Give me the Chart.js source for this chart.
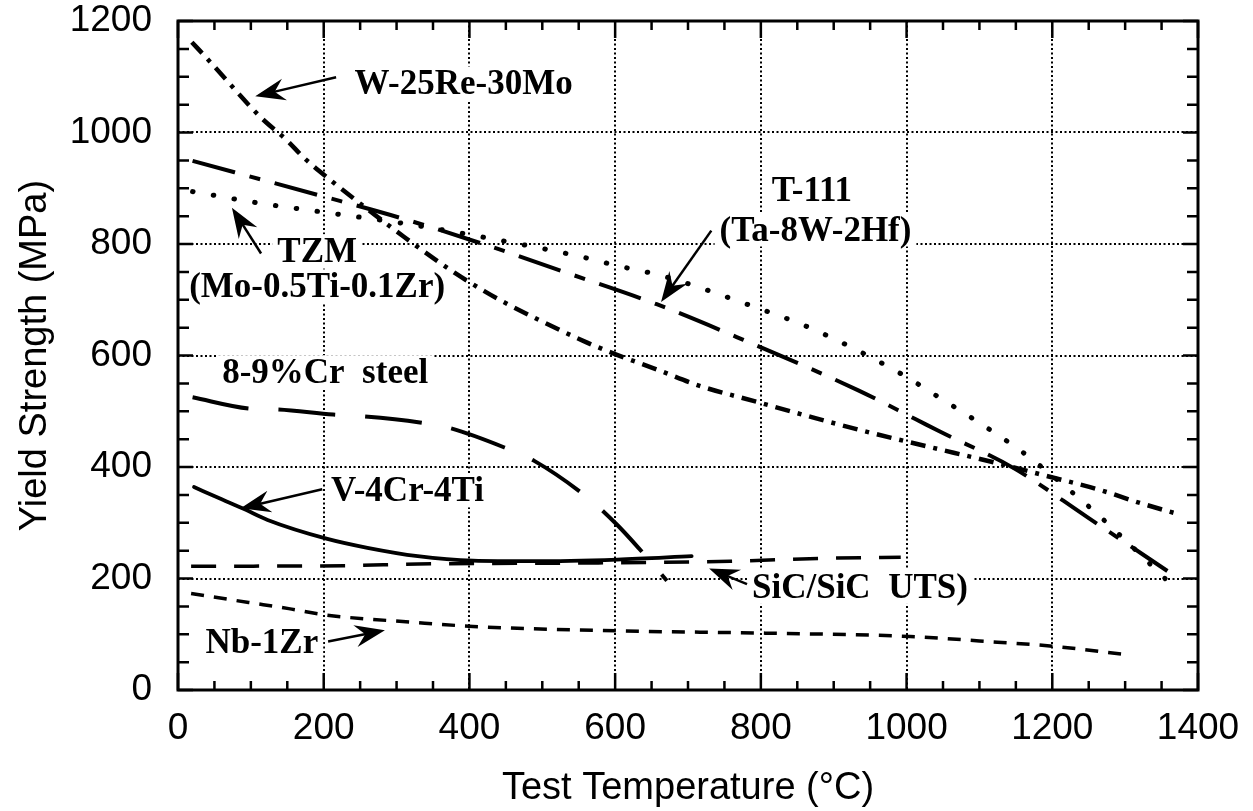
<!DOCTYPE html>
<html>
<head>
<meta charset="utf-8">
<script src="https://cdn.jsdelivr.net/npm/chart.js@4.4.1/dist/chart.umd.min.js"></script>
<style>
  html, body { margin: 0; padding: 0; background: #fff; }
  #wrap { width: 1253px; height: 811px; }
</style>
</head>
<body>
<div id="wrap"><canvas id="chart" width="1253" height="811"></canvas></div>
<script>
// axes
const xMin = 0, xMax = 1400, xStep = 200
const yMin = 0, yMax = 1200, yStep = 200
const minorStep = 50
const xTitle = "Test Temperature (°C)"
const yTitle = "Yield Strength (MPa)"

// W-25Re-30Mo (dash-dot)
const wTemp = [19, 39, 113, 151, 171, 210, 310, 380, 421, 444, 500, 560, 599, 657, 715, 794, 871, 949, 1028, 1124, 1192, 1265, 1319, 1374]
const wYield = [1162, 1134, 1028, 984, 957, 914, 813, 748, 715, 698, 661, 624, 603, 575, 546, 517, 489, 462, 437, 407, 384, 359, 336, 315]

// TZM (dotted)
const tzmTemp = [20, 113, 200, 314, 428, 547, 603, 667, 783, 872, 990, 1047, 1135, 1167, 1226, 1252, 1283, 1369]
const tzmYield = [894, 873, 857, 836, 810, 779, 761, 742, 691, 647, 569, 523, 449, 419, 356, 327, 290, 182]

// T-111 (long-short dash)
const t111Temp = [20, 192, 310, 428, 541, 657, 776, 933, 1012, 1045, 1147, 1247, 1363]
const t111Yield = [949, 888, 845, 796, 745, 692, 628, 538, 486, 464, 398, 311, 209]

// 8-9%Cr steel (long dash)
const crTemp = [20, 97, 138, 213, 254, 332, 370, 448, 489, 564, 603, 632, 671]
const crYield = [525, 505, 503, 494, 491, 480, 471, 435, 411, 343, 296, 255, 196]

// V-4Cr-4Ti (solid)
const vTemp = [22, 60, 90, 123, 205, 260, 329, 405, 487, 603, 705]
const vYield = [364, 342, 325, 305, 271, 255, 240, 232, 231, 234, 240]

// SiC/SiC UTS (dash)
const sicTemp = [18, 228, 329, 577, 758, 880, 992]
const sicYield = [222, 223, 226, 228, 231, 236, 238]

// Nb-1Zr (short dash)
const nbTemp = [18, 97, 152, 200, 328, 405, 606, 806, 1005, 1100, 1205, 1297]
const nbYield = [173, 157, 146, 135, 121, 114, 106, 102, 96, 88, 78, 64]

// labels and arrows, in data units
const labelText = ["W-25Re-30Mo", "TZM", "(Mo-0.5Ti-0.1Zr)", "T-111", "(Ta-8W-2Hf)", "8-9%Cr  steel", "V-4Cr-4Ti", "SiC/SiC  UTS)", "Nb-1Zr"]
const labelX = [392, 191, 191, 870, 875, 202, 315, 936, 115]
const labelY = [1088, 787, 724, 897, 826, 570, 358, 185, 87]
const arrowFrom = [[217, 1099], [114, 783], [732, 824], [198, 360], [781, 190], [206, 87]]
const arrowTo = [[106, 1065], [74, 865], [663, 696], [86, 326], [729, 218], [284, 107]]

function pts(xs, ys) {
    return xs.map((x, i) => ({ x: x, y: ys[i] }))
}

function series(name, xs, ys, dash, width, cap) {
    return {
        label: name,
        data: pts(xs, ys),
        showLine: true,
        pointRadius: 0,
        borderColor: "#000",
        borderWidth: width,
        borderDash: dash,
        borderCapStyle: cap,
        cubicInterpolationMode: "monotone",
        fill: false
    }
}

const labelFont = "bold 35px 'Liberation Serif', 'Times New Roman', serif"
const axisFont = "'Liberation Sans', Arial, sans-serif"

function drawArrow(ctx, x1, y1, x2, y2) {
    const ang = Math.atan2(y2 - y1, x2 - x1)
    const bx = -Math.cos(ang), by = -Math.sin(ang)
    const nx = -by, ny = bx
    const len = 30, half = 11
    ctx.beginPath()
    ctx.moveTo(x1, y1)
    ctx.lineTo(x2 + bx * 18, y2 + by * 18)
    ctx.lineWidth = 2.5
    ctx.stroke()
    ctx.beginPath()
    ctx.moveTo(x2, y2)
    ctx.lineTo(x2 + bx * len + nx * half, y2 + by * len + ny * half)
    ctx.lineTo(x2 + bx * 20, y2 + by * 20)
    ctx.lineTo(x2 + bx * len - nx * half, y2 + by * len - ny * half)
    ctx.closePath()
    ctx.fill()
}

const annotate = {
    id: "annotate",
    beforeDatasetsDraw(chart) {
        // white boxes behind labels, so the grid breaks there
        const ctx = chart.ctx, xs = chart.scales.x, ys = chart.scales.y
        ctx.save()
        ctx.font = labelFont
        ctx.fillStyle = "#fff"
        labelText.forEach((t, i) => {
            const w = ctx.measureText(t).width
            const cx = xs.getPixelForValue(labelX[i]), cy = ys.getPixelForValue(labelY[i])
            ctx.fillRect(cx - w / 2 - 5, cy - 17, w + 10, 34)
        })
        ctx.restore()
    },
    afterDatasetsDraw(chart) {
        const ctx = chart.ctx, xs = chart.scales.x, ys = chart.scales.y
        ctx.save()
        ctx.font = labelFont
        ctx.fillStyle = "#000"
        ctx.strokeStyle = "#000"
        ctx.textAlign = "center"
        ctx.textBaseline = "middle"
        labelText.forEach((t, i) => {
            ctx.fillText(t, xs.getPixelForValue(labelX[i]), ys.getPixelForValue(labelY[i]) + 2)
        })
        arrowFrom.forEach((f, i) => {
            const t = arrowTo[i]
            drawArrow(ctx, xs.getPixelForValue(f[0]), ys.getPixelForValue(f[1]),
                xs.getPixelForValue(t[0]), ys.getPixelForValue(t[1]))
        })
        ctx.restore()
    },
    afterDraw(chart) {
        // closed frame with inward ticks on all four sides
        const ctx = chart.ctx, a = chart.chartArea
        const xs = chart.scales.x, ys = chart.scales.y
        ctx.save()
        ctx.strokeStyle = "#000"
        ctx.lineWidth = 3
        ctx.strokeRect(a.left, a.top, a.right - a.left, a.bottom - a.top)
        ctx.lineWidth = 2.5
        ctx.beginPath()
        for (let v = xMin; v <= xMax; v += minorStep) {
            const px = xs.getPixelForValue(v)
            const l = v % xStep === 0 ? 17 : 9
            ctx.moveTo(px, a.bottom); ctx.lineTo(px, a.bottom - l)
            ctx.moveTo(px, a.top); ctx.lineTo(px, a.top + l)
        }
        for (let v = yMin; v <= yMax; v += minorStep) {
            const py = ys.getPixelForValue(v)
            const l = v % yStep === 0 ? 15 : 11
            ctx.moveTo(a.left, py); ctx.lineTo(a.left + l, py)
            ctx.moveTo(a.right, py); ctx.lineTo(a.right - l, py)
        }
        ctx.stroke()
        ctx.restore()
    }
}

const ctx = document.getElementById("chart")
const myChart = new Chart(ctx, {
    type: "scatter",
    data: {
        datasets: [
            series("W-25Re-30Mo", wTemp, wYield, [15, 8, 4, 8], 4.5, "butt"),
            series("TZM", tzmTemp, tzmYield, [0.5, 20.5], 5, "round"),
            series("T-111", t111Temp, t111Yield, [44, 15, 11, 15], 4, "butt"),
            series("8-9%Cr steel", crTemp, crYield, [57, 30], 4, "butt"),
            series("V-4Cr-4Ti", vTemp, vYield, [], 3.8, "round"),
            series("SiC/SiC UTS", sicTemp, sicYield, [25, 18], 3.5, "butt"),
            series("Nb-1Zr", nbTemp, nbYield, [13, 10], 3.5, "butt")
        ]
    },
    options: {
        responsive: false,
        animation: false,
        devicePixelRatio: 1,
        layout: { padding: { top: 21, right: 55, left: 0, bottom: 0 } },
        plugins: { legend: { display: false }, tooltip: { enabled: false } },
        scales: {
            x: {
                type: "linear",
                min: xMin, max: xMax,
                afterFit: s => { s.height = 121; s.paddingLeft = 0; s.paddingRight = 0 },
                ticks: {
                    stepSize: xStep,
                    color: "#000",
                    padding: 17,
                    callback: v => String(v),
                    font: { family: axisFont, size: 37 }
                },
                grid: { color: "#000", lineWidth: 2, drawTicks: false },
                border: { display: false, dash: [2, 2.5] },
                title: {
                    display: true,
                    text: xTitle,
                    color: "#000",
                    padding: { top: 0, bottom: 0 },
                    font: { family: axisFont, size: 38 }
                }
            },
            y: {
                type: "linear",
                min: yMin, max: yMax,
                afterFit: s => { s.width = 178; s.paddingTop = 0; s.paddingBottom = 0 },
                ticks: {
                    stepSize: yStep,
                    color: "#000",
                    padding: 26,
                    callback: v => String(v),
                    font: { family: axisFont, size: 37, lineHeight: 1 }
                },
                grid: { color: "#000", lineWidth: 2, drawTicks: false },
                border: { display: false, dash: [2, 2.5] },
                title: {
                    display: true,
                    text: yTitle,
                    color: "#000",
                    padding: { top: 13, bottom: 0 },
                    font: { family: axisFont, size: 38 }
                }
            }
        }
    },
    plugins: [annotate]
})
</script>
</body>
</html>
